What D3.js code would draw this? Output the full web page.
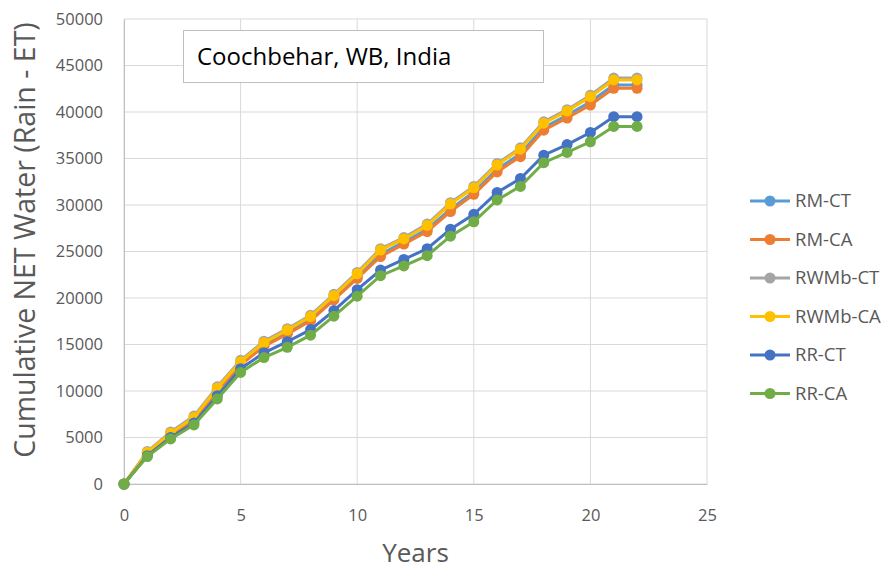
<!DOCTYPE html>
<html>
<head>
<meta charset="utf-8">
<script src="https://cdn.jsdelivr.net/npm/d3@7"></script>
<style>
  body { margin: 0; background: #fff; }
  text { font-family: "Open Sans", "DejaVu Sans", sans-serif; }
</style>
</head>
<body>
<svg id="chart" width="887" height="570"></svg>
<script>
// data
var years = d3.range(0, 23);
var seriesNames = ["RM-CT", "RM-CA", "RWMb-CT", "RWMb-CA", "RR-CT", "RR-CA"];
var seriesColors = ["#5B9BD5", "#ED7D31", "#A5A5A5", "#FFC000", "#4472C4", "#70AD47"];

var rmCT = [0, 3350, 5350, 7000, 10150, 12950, 15000, 16300, 17750, 20000, 22300, 24700, 26000, 27400, 29550, 31400, 33850, 35500, 38350, 39650, 41100, 42900, 42900];
var rmCA = [0, 3250, 5250, 6900, 10000, 12800, 14800, 16100, 17550, 19800, 22100, 24450, 25800, 27150, 29300, 31150, 33550, 35200, 38050, 39350, 40750, 42550, 42550];
var rwmbCT = [0, 3500, 5600, 7300, 10450, 13300, 15350, 16700, 18150, 20400, 22750, 25300, 26500, 27950, 30250, 32000, 34450, 36150, 38950, 40250, 41800, 43650, 43650];
var rwmbCA = [0, 3400, 5450, 7150, 10300, 13150, 15200, 16550, 18000, 20250, 22600, 25150, 26350, 27800, 30100, 31850, 34300, 36000, 38800, 40100, 41650, 43450, 43450];
var rrCT = [0, 3050, 5000, 6550, 9500, 12400, 14100, 15300, 16600, 18650, 20900, 23000, 24150, 25300, 27400, 29000, 31350, 32850, 35350, 36500, 37800, 39500, 39500];
var rrCA = [0, 2950, 4850, 6350, 9150, 12000, 13600, 14700, 16000, 18050, 20200, 22400, 23450, 24550, 26650, 28200, 30550, 32000, 34550, 35650, 36800, 38450, 38450];

var xTicks = [0, 5, 10, 15, 20, 25];
var yTicks = d3.range(0, 50001, 5000);

var allSeries = [rmCT, rmCA, rwmbCT, rwmbCA, rrCT, rrCA].map(function(vals, i) {
  return {
    name: seriesNames[i],
    color: seriesColors[i],
    points: vals.map(function(v, j) { return { x: years[j], y: v }; })
  };
});

var svg = d3.select("#chart");
var margin = { left: 124, right: 180, top: 19, bottom: 86 };
var width = 887, height = 570;

var x = d3.scaleLinear().domain([0, 25]).range([margin.left, width - margin.right]);
var y = d3.scaleLinear().domain([0, 50000]).range([height - margin.bottom, margin.top]);

// gridlines
svg.append("g")
  .selectAll("line.h")
  .data(yTicks)
  .join("line")
  .attr("x1", x(0)).attr("x2", x(25))
  .attr("y1", function(d) { return y(d); })
  .attr("y2", function(d) { return y(d); })
  .attr("stroke", "#d9d9d9").attr("stroke-width", 1);

svg.append("g")
  .selectAll("line.v")
  .data(xTicks)
  .join("line")
  .attr("x1", function(d) { return x(d); })
  .attr("x2", function(d) { return x(d); })
  .attr("y1", y(0)).attr("y2", y(50000))
  .attr("stroke", "#d9d9d9").attr("stroke-width", 1);

// axes
var yAxis = d3.axisLeft(y).tickValues(yTicks).tickSize(0).tickPadding(21).tickFormat(d3.format("d"));
var gy = svg.append("g").attr("transform", "translate(" + x(0) + ",0)").call(yAxis);
gy.select(".domain").attr("stroke", "#bfbfbf");
gy.selectAll("text").attr("fill", "#595959").style("font-size", "16.5px");

var xAxis = d3.axisBottom(x).tickValues(xTicks).tickSize(0).tickPadding(25).tickFormat(d3.format("d"));
var gx = svg.append("g").attr("transform", "translate(0," + y(0) + ")").call(xAxis);
gx.select(".domain").attr("stroke", "#bfbfbf");
gx.selectAll("text").attr("fill", "#595959").style("font-size", "16.5px");

// axis titles
svg.append("text")
  .attr("transform", "translate(35,240) rotate(-90)")
  .attr("text-anchor", "middle")
  .attr("fill", "#595959")
  .style("font-size", "28.5px")
  .text("Cumulative NET Water (Rain - ET)");

svg.append("text")
  .attr("x", x(12.5)).attr("y", 562)
  .attr("text-anchor", "middle")
  .attr("fill", "#595959")
  .style("font-size", "26px")
  .text("Years");

// series
var line = d3.line().x(function(d) { return x(d.x); }).y(function(d) { return y(d.y); });

var g = svg.append("g")
  .selectAll("g")
  .data(allSeries)
  .join("g");

g.append("path")
  .attr("d", function(d) { return line(d.points); })
  .attr("fill", "none")
  .attr("stroke", function(d) { return d.color; })
  .attr("stroke-width", 3);

g.selectAll("circle")
  .data(function(d) { return d.points.map(function(p) { return { p: p, color: d.color }; }); })
  .join("circle")
  .attr("cx", function(d) { return x(d.p.x); })
  .attr("cy", function(d) { return y(d.p.y); })
  .attr("r", 5.5)
  .attr("fill", function(d) { return d.color; });

// title box
svg.append("rect")
  .attr("x", 183.5).attr("y", 30.5)
  .attr("width", 360).attr("height", 52)
  .attr("fill", "#fff")
  .attr("stroke", "#bfbfbf");

svg.append("text")
  .attr("x", 197).attr("y", 65)
  .attr("fill", "#000")
  .style("font-size", "24px")
  .text("Coochbehar, WB, India");

// legend
var legend = svg.append("g")
  .selectAll("g")
  .data(allSeries)
  .join("g")
  .attr("transform", function(d, i) { return "translate(750," + (201 + i * 38.5) + ")"; });

legend.append("line")
  .attr("x1", 0).attr("x2", 40)
  .attr("stroke", function(d) { return d.color; })
  .attr("stroke-width", 3);

legend.append("circle")
  .attr("cx", 20).attr("r", 5.5)
  .attr("fill", function(d) { return d.color; });

legend.append("text")
  .attr("x", 45).attr("dy", "0.35em")
  .attr("fill", "#595959")
  .style("font-size", "18.5px")
  .text(function(d) { return d.name; });
</script>
</body>
</html>
